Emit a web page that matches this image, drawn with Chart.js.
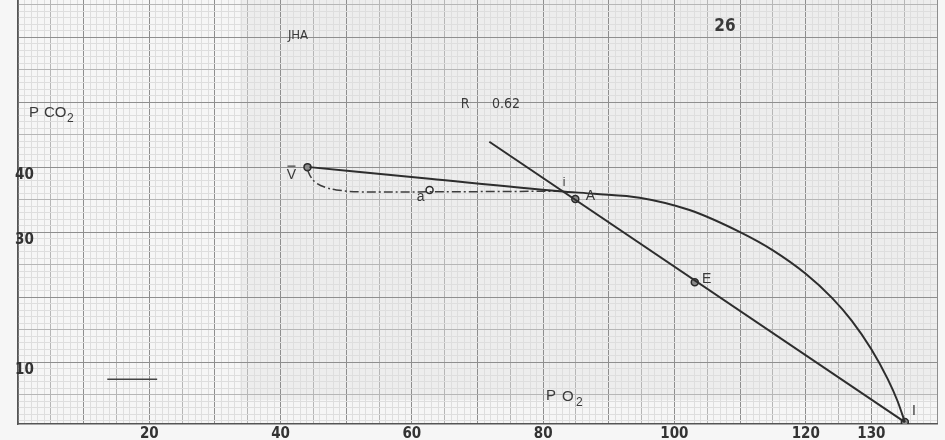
<!DOCTYPE html>
<html>
<head>
<meta charset="utf-8">
<script src="https://cdn.jsdelivr.net/npm/chart.js@4/dist/chart.umd.min.js"></script>
<style>
  body { margin: 0; background: #f4f4f4; }
  #wrap { width: 945px; height: 440px; }
</style>
</head>
<body>
<div id="wrap"><canvas id="myChart" width="945" height="440"></canvas></div>
<script>
// curva continua V -> A -> I
const curvaX = [44.4, 62.7, 82.5, 87.8, 94.7, 102.3, 110.0, 115.0, 120.0, 124.0, 127.0, 130.0, 132.5, 134.0, 135.1];
const curvaY = [40.0, 38.2, 36.3, 35.9, 35.3, 33.4, 30.0, 27.2, 23.6, 19.9, 16.4, 12.0, 7.4, 4.0, 0.8];

// curva punto-raya V -> a
const rayaX = [44.1, 44.6, 45.4, 46.8, 48.5, 52.0, 62.7, 82.5];
const rayaY = [39.6, 38.5, 37.6, 36.9, 36.5, 36.2, 36.2, 36.3];

// recta R
const rectaX = [71.8, 135.1];
const rectaY = [43.9, 0.8];

// puntos marcados
const puntos = ['V', 'a', 'A', 'E', 'I'];
const puntosX = [44.1, 62.7, 84.9, 103.1, 135.1];
const puntosY = [40.0, 36.5, 35.1, 22.3, 0.8];

// marca corta abajo a la izquierda
const marcaX = [13.6, 21.2];
const marcaY = [7.4, 7.4];

const etiquetasX = [20, 40, 60, 80, 100, 120, 130];
const etiquetasY = [10, 30, 40];

function pares(xs, ys) {
    return xs.map((x, i) => ({ x: x, y: ys[i] }));
}

function colorGrilla(v) {
    if (Math.abs(v % 10) < 0.01) return '#8e8e8e';
    if (Math.abs(v % 5) < 0.01) return '#b6b6b6';
    return '#dedede';
}

const fondo = {
    id: 'fondo',
    beforeDraw(chart) {
        const ctx = chart.ctx;
        ctx.save();
        ctx.fillStyle = '#f6f6f6';
        ctx.fillRect(0, 0, chart.width, chart.height);
        ctx.fillStyle = '#ededed';
        ctx.fillRect(240, 0, 697, 400);
        ctx.restore();
    }
};

const textos = {
    id: 'textos',
    afterDatasetsDraw(chart) {
        const ctx = chart.ctx;
        const sx = chart.scales.x;
        const sy = chart.scales.y;
        const offs = [[-16, 8], [-9, 7], [15, -3], [12, -3], [9, -11]];
        ctx.save();
        ctx.fillStyle = '#3a3a3a';
        ctx.strokeStyle = '#3a3a3a';
        ctx.textAlign = 'center';
        ctx.textBaseline = 'middle';
        ctx.font = '14px "Liberation Sans"';
        puntos.forEach((p, i) => {
            const px = sx.getPixelForValue(puntosX[i]);
            const py = sy.getPixelForValue(puntosY[i]);
            ctx.fillText(p, px + offs[i][0], py + offs[i][1]);
        });
        // raya sobre la V
        const vx = sx.getPixelForValue(puntosX[0]) + offs[0][0];
        const vy = sy.getPixelForValue(puntosY[0]) + offs[0][1];
        ctx.lineWidth = 1.2;
        ctx.beginPath();
        ctx.moveTo(vx - 4, vy - 9);
        ctx.lineTo(vx + 4, vy - 9);
        ctx.stroke();

        ctx.font = '12px "Liberation Sans"';
        ctx.fillText('i', 564, 183);

        // etiquetas del eje y dentro del grafico
        ctx.textAlign = 'left';
        ctx.font = 'bold 15px "DejaVu Sans Condensed"';
        ctx.fillStyle = '#333';
        etiquetasY.forEach(v => {
            ctx.fillText(String(v), 15, sy.getPixelForValue(v) + 8);
        });

        ctx.fillStyle = '#3a3a3a';
        ctx.textAlign = 'center';
        ctx.font = '13px "DejaVu Sans Condensed"';
        ctx.fillText('JHA', 298, 36);
        ctx.font = 'bold 17px "DejaVu Sans Condensed"';
        ctx.fillText('26', 725, 27);
        ctx.font = '14px "DejaVu Sans Condensed"';
        ctx.fillText('R', 465, 104);
        ctx.fillText('0.62', 506, 104);

        ctx.textAlign = 'left';
        ctx.font = '15px "Liberation Sans"';
        ctx.fillText('P', 29, 113);
        ctx.fillText('CO', 44, 113);
        ctx.fillText('P', 546, 396);
        ctx.fillText('O', 562, 397);
        ctx.font = '12px "Liberation Sans"';
        ctx.fillText('2', 67, 119);
        ctx.fillText('2', 576, 403);
        ctx.restore();
    }
};

const ctx = document.getElementById('myChart').getContext('2d');
new Chart(ctx, {
    type: 'scatter',
    data: {
        datasets: [
            {
                data: pares(curvaX, curvaY),
                showLine: true,
                borderColor: '#2d2d2d',
                borderWidth: 2,
                pointRadius: 0,
                cubicInterpolationMode: 'monotone'
            },
            {
                data: pares(rayaX, rayaY),
                showLine: true,
                borderColor: '#3c3c3c',
                borderWidth: 1.5,
                borderDash: [9, 3, 2, 3],
                pointRadius: 0,
                tension: 0.4
            },
            {
                data: pares(rectaX, rectaY),
                showLine: true,
                borderColor: '#2d2d2d',
                borderWidth: 2,
                pointRadius: 0
            },
            {
                data: pares(marcaX, marcaY),
                showLine: true,
                borderColor: '#444',
                borderWidth: 1.5,
                pointRadius: 0
            },
            {
                data: pares(puntosX, puntosY),
                showLine: false,
                pointRadius: 3.5,
                pointBackgroundColor: ['#8a8a8a', '#f0f0f0', '#8a8a8a', '#8a8a8a', '#8a8a8a'],
                pointBorderColor: '#2a2a2a',
                pointBorderWidth: 1.5
            }
        ]
    },
    options: {
        responsive: false,
        animation: false,
        events: [],
        layout: { autoPadding: false, padding: { left: 0, right: 8, top: 0, bottom: 0 } },
        plugins: {
            legend: { display: false },
            tooltip: { enabled: false }
        },
        scales: {
            x: {
                type: 'linear',
                min: 0,
                max: 140,
                afterFit(scale) { scale.height = 16; },
                border: { display: true, color: '#555', width: 1.5 },
                grid: {
                    drawTicks: false,
                    lineWidth: 1,
                    color: c => colorGrilla(c.tick.value)
                },
                ticks: {
                    stepSize: 1,
                    autoSkip: false,
                    maxRotation: 0,
                    padding: 1,
                    color: '#333',
                    font: { family: '"DejaVu Sans Condensed"', size: 15, weight: 'bold' },
                    callback: v => etiquetasX.includes(v) ? String(v) : ''
                }
            },
            y: {
                type: 'linear',
                min: 0.5,
                max: 65.7,
                afterFit(scale) { scale.width = 18; },
                border: { display: true, color: '#555', width: 1.5 },
                grid: {
                    drawTicks: false,
                    lineWidth: 1,
                    color: c => colorGrilla(c.tick.value)
                },
                ticks: {
                    stepSize: 1,
                    includeBounds: false,
                    display: false
                }
            }
        }
    },
    plugins: [fondo, textos]
});
</script>
</body>
</html>
